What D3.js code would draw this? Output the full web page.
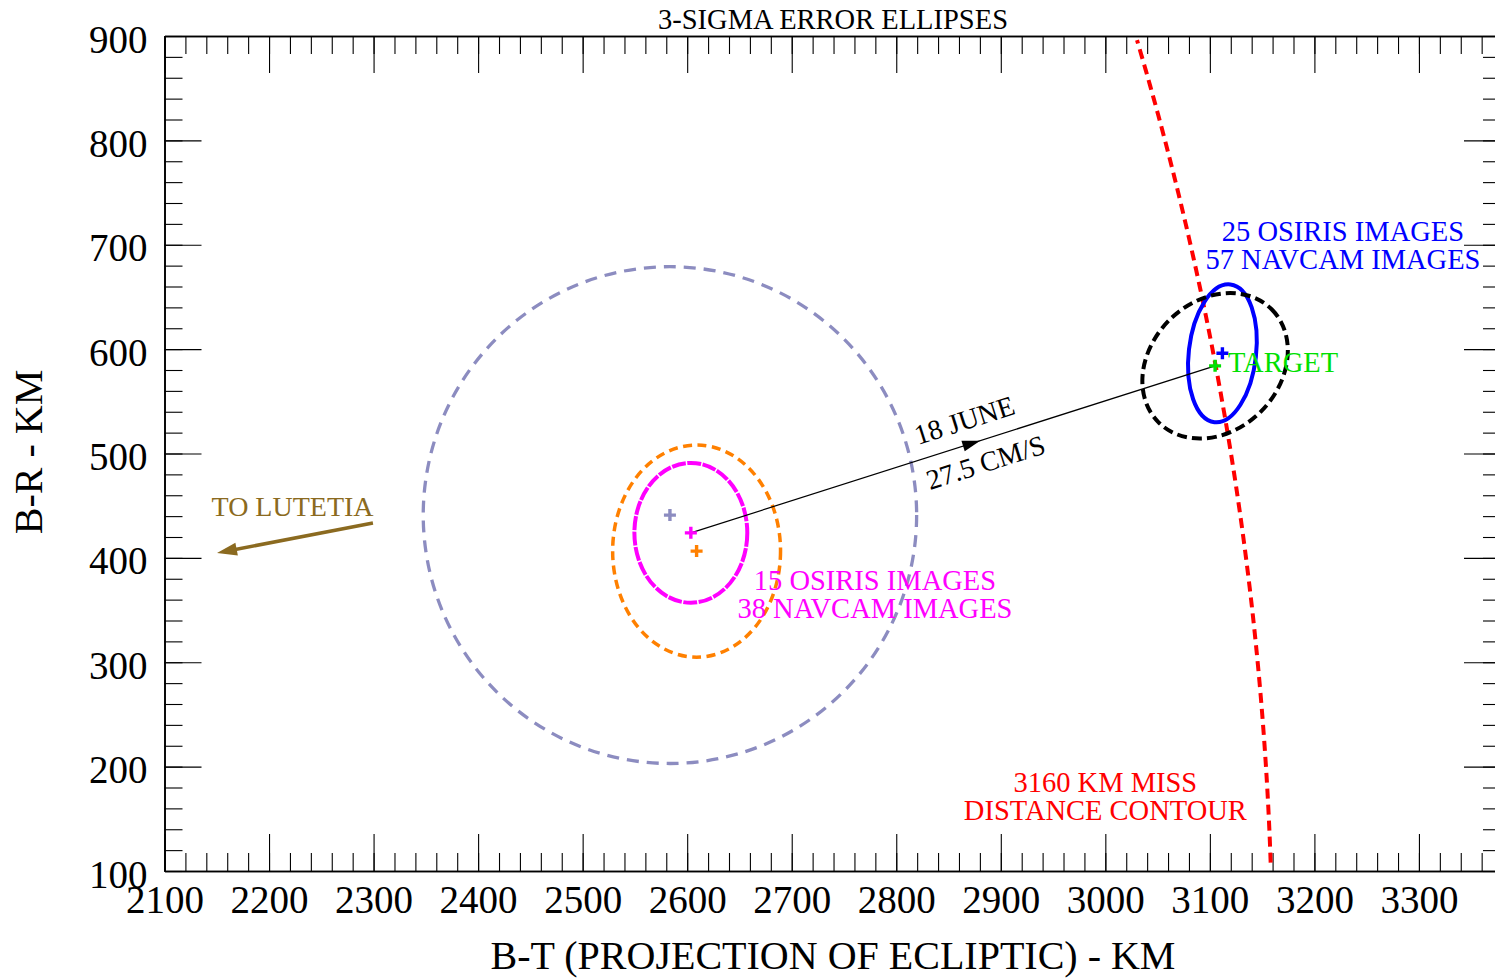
<!DOCTYPE html>
<html>
<head>
<meta charset="utf-8">
<script src="https://cdn.jsdelivr.net/npm/d3@7"></script>
<style>
  html, body { margin: 0; padding: 0; background: #fff; }
  svg { display: block; }
  text { font-family: "Liberation Serif", "Times New Roman", serif; }
</style>
</head>
<body>
<svg id="chart" width="1495" height="978"></svg>
<script>
// ---- data (B-plane coordinates, km) ----
const xMajorTicks = [2100, 2200, 2300, 2400, 2500, 2600, 2700, 2800, 2900, 3000, 3100, 3200, 3300];
const yMajorTicks = [100, 200, 300, 400, 500, 600, 700, 800, 900];

// 3-sigma error ellipses: centre (B-T, B-R), semi-axes (km), tilt (deg, clockwise on screen)
const ellipseNames = ["prior", "solution15", "solution15b", "solution25", "targetZone"];
const ellipseBT    = [2583.5, 2609.0, 2603.5, 3112.0, 3105.0];
const ellipseBR    = [441.0, 406.5, 424.0, 596.0, 584.0];
const ellipseRT    = [236.0, 80.3, 54.0, 32.2, 76.5];
const ellipseRR    = [238.0, 101.6, 67.0, 66.4, 62.0];
const ellipseTilt  = [0, 0, 0, 6.6, -45];

// solution centres marked with a cross
const crossNames = ["prior", "solution15", "solution15b", "solution25", "target"];
const crossBT    = [2583.5, 2609.0, 2603.5, 3112.0, 3105.0];
const crossBR    = [441.0, 406.5, 424.0, 596.0, 584.0];

// manoeuvre vector (18 June, 27.5 cm/s) and direction to Lutetia
const manoeuvreFrom = [2603.5, 424.0];
const manoeuvreTo   = [3105.0, 584.0];
const lutetiaFrom   = [2299.4, 433.4];
const lutetiaTo     = [2150.2, 404.7];

// miss-distance contour radius (km) and the B-R span it is drawn over
const missDistance = 3160;
const contourBR = [108, 896];

// ---- styles ----
const ellipseStyle = {
  prior:       { stroke: "#8c8cc0", width: 3.3, dash: "12,8" },
  solution15:  { stroke: "#ff8000", width: 3.5, dash: "9,5.5" },
  solution15b: { stroke: "#ff00ff", width: 4,   dash: "14,1.5" },
  solution25:  { stroke: "#0000ff", width: 4,   dash: null },
  targetZone:  { stroke: "#000000", width: 4,   dash: "10,5" }
};
const crossColor = {
  prior: "#8c8cc0", solution15: "#ff8000", solution15b: "#ff00ff",
  solution25: "#0000ff", target: "#00e000"
};

const svg = d3.select("#chart");
const x = d3.scaleLinear().domain([2100, 3378.5]).range([164.5, 1501]);
const y = d3.scaleLinear().domain([100, 900]).range([871, 36]);
const fontFam = '"Liberation Serif", "Times New Roman", serif';

// ---- axes: major + minor ticks on all four sides, pointing inward ----
const minorX = d3.range(2100, 3379, 20);
const minorY = d3.range(100, 901, 20);

function styleAxis(g) {
  g.selectAll(".domain").attr("stroke", "#000").attr("stroke-width", 1.6);
  g.selectAll(".tick line").attr("stroke", "#000").attr("stroke-width", 1.1);
}

const bottomMinor = svg.append("g").attr("transform", `translate(0,${y(100)})`)
  .call(d3.axisBottom(x).tickValues(minorX).tickSize(-18).tickSizeOuter(0).tickFormat(""));
const bottomMajor = svg.append("g").attr("transform", `translate(0,${y(100)})`)
  .call(d3.axisBottom(x).tickValues(xMajorTicks).tickSize(-37).tickSizeOuter(0).tickFormat(d3.format("d")));
const topMinor = svg.append("g").attr("transform", `translate(0,${y(900)})`)
  .call(d3.axisTop(x).tickValues(minorX).tickSize(-18).tickSizeOuter(0).tickFormat(""));
const topMajor = svg.append("g").attr("transform", `translate(0,${y(900)})`)
  .call(d3.axisTop(x).tickValues(xMajorTicks).tickSize(-37).tickSizeOuter(0).tickFormat(""));
const leftMinor = svg.append("g").attr("transform", `translate(${x(2100)},0)`)
  .call(d3.axisLeft(y).tickValues(minorY).tickSize(-18).tickSizeOuter(0).tickFormat(""));
const leftMajor = svg.append("g").attr("transform", `translate(${x(2100)},0)`)
  .call(d3.axisLeft(y).tickValues(yMajorTicks).tickSize(-37).tickSizeOuter(0).tickFormat(d3.format("d")));
const rightMinor = svg.append("g").attr("transform", `translate(${x(3378.5)},0)`)
  .call(d3.axisRight(y).tickValues(minorY).tickSize(-18).tickSizeOuter(0).tickFormat(""));
const rightMajor = svg.append("g").attr("transform", `translate(${x(3378.5)},0)`)
  .call(d3.axisRight(y).tickValues(yMajorTicks).tickSize(-37).tickSizeOuter(0).tickFormat(""));

[bottomMinor, bottomMajor, topMinor, topMajor, leftMinor, leftMajor, rightMinor, rightMajor].forEach(styleAxis);

bottomMajor.selectAll("text")
  .attr("y", 42).attr("dy", 0)
  .attr("font-family", fontFam).attr("font-size", 39).attr("fill", "#000");
leftMajor.selectAll("text")
  .attr("x", -17).attr("dy", 0).attr("y", 16)
  .attr("font-family", fontFam).attr("font-size", 39).attr("fill", "#000");

// ---- titles ----
svg.append("text").attr("x", 833).attr("y", 29).attr("text-anchor", "middle")
  .attr("font-size", 28.5).text("3-SIGMA ERROR ELLIPSES");
svg.append("text").attr("x", 833).attr("y", 969).attr("text-anchor", "middle")
  .attr("font-size", 40).text("B-T (PROJECTION OF ECLIPTIC) - KM");
svg.append("text").attr("transform", "translate(42,452) rotate(-90)").attr("text-anchor", "middle")
  .attr("font-size", 40).text("B-R - KM");

// ---- miss-distance contour ----
const contourPts = d3.range(contourBR[0], contourBR[1] + 0.1, 4)
  .map(br => [Math.sqrt(missDistance * missDistance - br * br), br]);
svg.append("path")
  .attr("d", d3.line().x(d => x(d[0])).y(d => y(d[1]))(contourPts))
  .attr("fill", "none").attr("stroke", "#ff0000").attr("stroke-width", 4)
  .attr("stroke-dasharray", "10,6");

// ---- error ellipses ----
const ellipses = ellipseNames.map((n, i) => ({
  name: n, bt: ellipseBT[i], br: ellipseBR[i], rt: ellipseRT[i], rr: ellipseRR[i], tilt: ellipseTilt[i]
}));
svg.append("g").selectAll("ellipse").data(ellipses).join("ellipse")
  .attr("cx", d => x(d.bt))
  .attr("cy", d => y(d.br))
  .attr("rx", d => x(d.bt + d.rt) - x(d.bt))
  .attr("ry", d => y(d.br) - y(d.br + d.rr))
  .attr("transform", d => `rotate(${d.tilt},${x(d.bt)},${y(d.br)})`)
  .attr("fill", "none")
  .attr("stroke", d => ellipseStyle[d.name].stroke)
  .attr("stroke-width", d => ellipseStyle[d.name].width)
  .attr("stroke-dasharray", d => ellipseStyle[d.name].dash);

// ---- manoeuvre vector with mid-line arrowhead ----
function arrowHead(tipX, tipY, ang, len, half) {
  const bx = tipX - len * Math.cos(ang), by = tipY - len * Math.sin(ang);
  const px = -Math.sin(ang) * half, py = Math.cos(ang) * half;
  return `M${tipX},${tipY}L${bx + px},${by + py}L${bx - px},${by - py}Z`;
}
{
  const x0 = x(manoeuvreFrom[0]), y0 = y(manoeuvreFrom[1]);
  const x1 = x(manoeuvreTo[0]), y1 = y(manoeuvreTo[1]);
  svg.append("line").attr("x1", x0).attr("y1", y0).attr("x2", x1).attr("y2", y1)
    .attr("stroke", "#000").attr("stroke-width", 1.2);
  const ang = Math.atan2(y1 - y0, x1 - x0);
  const t = 0.552;
  svg.append("path").attr("d", arrowHead(x0 + t * (x1 - x0), y0 + t * (y1 - y0), ang, 18, 5.5))
    .attr("fill", "#000");
  const deg = ang * 180 / Math.PI;
  svg.append("text").attr("transform", `translate(${x(2820.8)},${y(508.1)}) rotate(${deg})`)
    .attr("font-size", 28).text("18 JUNE");
  svg.append("text").attr("transform", `translate(${x(2832.2)},${y(465)}) rotate(${deg})`)
    .attr("font-size", 28).text("27.5 CM/S");
}

// ---- direction to Lutetia ----
{
  const x0 = x(lutetiaFrom[0]), y0 = y(lutetiaFrom[1]);
  const x1 = x(lutetiaTo[0]), y1 = y(lutetiaTo[1]);
  const ang = Math.atan2(y1 - y0, x1 - x0);
  svg.append("line").attr("x1", x0).attr("y1", y0)
    .attr("x2", x1 - 12 * Math.cos(ang)).attr("y2", y1 - 12 * Math.sin(ang))
    .attr("stroke", "#8b6a20").attr("stroke-width", 3.5);
  svg.append("path").attr("d", arrowHead(x1, y1, ang, 20, 6.5)).attr("fill", "#8b6a20");
  svg.append("text").attr("x", x(2145)).attr("y", y(440.4))
    .attr("font-size", 28).attr("fill", "#8b6a20").text("TO LUTETIA");
}

// ---- centre crosses ----
const crosses = crossNames.map((n, i) => ({ name: n, bt: crossBT[i], br: crossBR[i] }));
const cg = svg.append("g");
crosses.forEach(c => {
  const cx = x(c.bt), cy = y(c.br);
  cg.append("path").attr("d", `M${cx - 6},${cy}H${cx + 6}M${cx},${cy - 6}V${cy + 6}`)
    .attr("stroke", crossColor[c.name]).attr("stroke-width", 3.4).attr("fill", "none");
});

// ---- annotations ----
const notes = [
  { text: "25 OSIRIS IMAGES", bt: 3227.3, br: 703.9, anchor: "middle", color: "#0000ff" },
  { text: "57 NAVCAM IMAGES", bt: 3227.3, br: 676.8, anchor: "middle", color: "#0000ff" },
  { text: "TARGET", bt: 3117.3, br: 578.1, anchor: "start", color: "#00e000" },
  { text: "15 OSIRIS IMAGES", bt: 2779.6, br: 369.2, anchor: "middle", color: "#ff00ff" },
  { text: "38 NAVCAM IMAGES", bt: 2779.6, br: 342.4, anchor: "middle", color: "#ff00ff" },
  { text: "3160 KM MISS", bt: 3000, br: 175.7, anchor: "middle", color: "#ff0000" },
  { text: "DISTANCE CONTOUR", bt: 3000, br: 148.9, anchor: "middle", color: "#ff0000" }
];
svg.append("g").selectAll("text").data(notes).join("text")
  .attr("x", d => x(d.bt)).attr("y", d => y(d.br))
  .attr("text-anchor", d => d.anchor).attr("fill", d => d.color)
  .attr("font-size", 28.5).text(d => d.text);
</script>
</body>
</html>
